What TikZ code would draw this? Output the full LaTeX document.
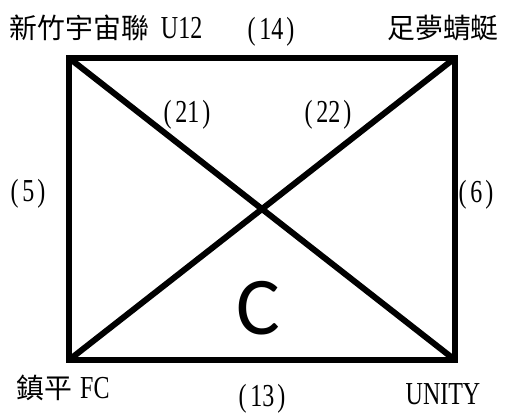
\documentclass[tikz,border=0pt]{standalone}
\usepackage{fontspec}
\setmainfont{Liberation Serif}[FakeStretch=0.75]
\setsansfont{Carlito}
\newfontfamily\cjk[Scale=0.87]{Noto Sans CJK TC}
\newcommand{\gm}[1]{(\hspace{4pt}#1\hspace{3pt})}
\tikzset{lbl/.style={inner sep=0pt,font=\fontsize{32}{34}\selectfont}}

\begin{document}
\begin{tikzpicture}[x=1pt,y=-1pt]
\useasboundingbox (0,0) rectangle (505,415);
\fill[white] (0,0) rectangle (505,415);
% corners
\coordinate (tl) at (69,58);
\coordinate (tr) at (455,58);
\coordinate (br) at (455,360);
\coordinate (bl) at (69,360);
\draw[line width=6pt] (tl) -- (tr) -- (br) -- (bl) -- cycle;
\draw[line width=6pt] (tl) -- (br);
\draw[line width=6pt] (tr) -- (bl);
% teams
\node[lbl] (hsinchu) at (106,28) {{\cjk 新竹宇宙聯}\hspace{12pt}U12};
\node[lbl] (zumeng) at (443,28) {\cjk 足夢蜻蜓};
\node[lbl] (zhenping) at (63,388) {{\cjk 鎮平}\hspace{8pt}FC};
\node[lbl] (unity) at (443,394) {UNITY};
% games
\node[lbl] (g14) at (271,32) {\gm{14}};
\node[lbl] (g21) at (187,115) {\gm{21}};
\node[lbl] (g22) at (328,115) {\gm{22}};
\node[lbl] (g5) at (28,194) {\gm{5}};
\node[lbl] (g6) at (476,195) {\gm{6}};
\node[lbl] (g13) at (262,399) {\gm{13}};
% group
\node[inner sep=0pt,font=\sffamily\fontsize{82}{82}\selectfont] (grp) at (258,308) {C};
\end{tikzpicture}
\end{document}
